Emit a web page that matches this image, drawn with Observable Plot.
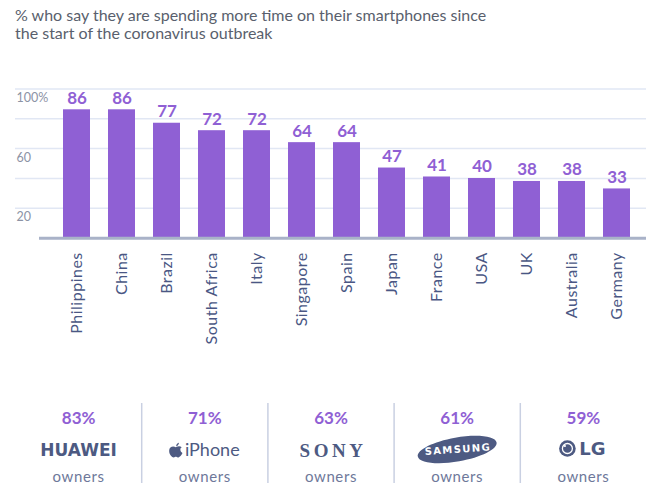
<!DOCTYPE html>
<html>
<head>
<meta charset="utf-8">
<script src="https://cdn.jsdelivr.net/npm/d3@7"></script>
<script src="https://cdn.jsdelivr.net/npm/@observablehq/plot@0.6"></script>
<style>
  html, body { margin: 0; padding: 0; background: #ffffff; }
  body { width: 652px; height: 497px; position: relative; overflow: hidden; font-family: Lato, "Open Sans", sans-serif; }
  #title { position: absolute; left: 15px; top: 6px; font-size: 16px; line-height: 18px; color: #595f6d; font-family: Lato, sans-serif; }
  #chart { position: absolute; left: 0; top: 50px; }
  #brands { position: absolute; left: 0; top: 395px; }
  #chart svg [aria-label="x-axis tick label"] { letter-spacing: 0.5px; }
</style>
</head>
<body>
<div id="title">% who say they are spending more time on their smartphones since<br>the start of the coronavirus outbreak</div>
<div id="chart"></div>
<div id="brands"></div>
<script>
// ---- data ----
const countries = ["Philippines", "China", "Brazil", "South Africa", "Italy", "Singapore", "Spain", "Japan", "France", "USA", "UK", "Australia", "Germany"];
const shares = [86, 86, 77, 72, 72, 64, 64, 47, 41, 40, 38, 38, 33];
const gridTicks = [20, 40, 60, 80, 100];
const labelTicks = [20, 60, 100];
const brands = ["HUAWEI", "iPhone", "SONY", "SAMSUNG", "LG"];
const brandShares = [83, 71, 63, 61, 59];
const dividers = [1, 2, 3, 4];

const purple = "#8f60d4";
const slate = "#4d5a82";

const rows = countries.map((c, i) => ({country: c, value: shares[i]}));

const chart = Plot.plot({
  width: 652,
  height: 300,
  marginLeft: 15,
  marginRight: 6,
  marginTop: 38.4,
  marginBottom: 112.3,
  style: {fontFamily: "Lato, sans-serif", background: "transparent"},
  x: {domain: countries, range: [43.6, 649.8], padding: 0.4},
  y: {domain: [0, 100], axis: null},
  marks: [
    Plot.ruleY(gridTicks, {stroke: "#e1e7f4", strokeWidth: 1.5}),
    Plot.text(labelTicks, {y: d => d, text: d => d === 100 ? "100%" : String(d), frameAnchor: "left", textAnchor: "start", dx: 1, dy: 9, fill: "#8c93a5", fontSize: 12.5}),
    Plot.barY(rows, {x: "country", y: "value", fill: purple}),
    Plot.ruleY([0], {stroke: "#a9b2c8", strokeWidth: 3, insetLeft: 24}),
    Plot.text(rows, {x: "country", y: "value", text: d => String(d.value), lineAnchor: "bottom", dy: -6, fill: purple, fontSize: 17, fontWeight: "bold"}),
    Plot.axisX({tickRotate: -90, tickSize: 0, tickPadding: 14, fontSize: 16, label: null, color: "#4a5784"})
  ]
});
document.getElementById("chart").appendChild(chart);

// custom symbols
const ellipseSymbol = {
  draw(ctx, size) {
    const r = Math.sqrt(size / Math.PI);
    const a = r, b = r * 0.3, k = 0.5523, th = -10 * Math.PI / 180;
    const c = Math.cos(th), s = Math.sin(th);
    const p = (x, y) => [x * c - y * s, x * s + y * c];
    const m = p(a, 0);
    ctx.moveTo(m[0], m[1]);
    const segs = [
      [[a, k * b], [k * a, b], [0, b]],
      [[-k * a, b], [-a, k * b], [-a, 0]],
      [[-a, -k * b], [-k * a, -b], [0, -b]],
      [[k * a, -b], [a, -k * b], [a, 0]]
    ];
    for (const [c1, c2, e] of segs) {
      const q1 = p(...c1), q2 = p(...c2), q3 = p(...e);
      ctx.bezierCurveTo(q1[0], q1[1], q2[0], q2[1], q3[0], q3[1]);
    }
    ctx.closePath();
  }
};
const appleSymbol = {
  draw(ctx, size) {
    const r = Math.sqrt(size / Math.PI);
    ctx.moveTo(0, -0.45 * r);
    ctx.bezierCurveTo(-0.3 * r, -0.65 * r, -0.95 * r, -0.6 * r, -0.95 * r, 0.05 * r);
    ctx.bezierCurveTo(-0.95 * r, 0.6 * r, -0.55 * r, 1.0 * r, -0.3 * r, 1.0 * r);
    ctx.bezierCurveTo(-0.15 * r, 1.0 * r, -0.1 * r, 0.9 * r, 0, 0.9 * r);
    ctx.bezierCurveTo(0.1 * r, 0.9 * r, 0.15 * r, 1.0 * r, 0.3 * r, 1.0 * r);
    ctx.bezierCurveTo(0.55 * r, 1.0 * r, 0.85 * r, 0.6 * r, 0.95 * r, 0.35 * r);
    ctx.bezierCurveTo(0.6 * r, 0.2 * r, 0.55 * r, -0.35 * r, 0.85 * r, -0.45 * r);
    ctx.bezierCurveTo(0.6 * r, -0.7 * r, 0.3 * r, -0.65 * r, 0, -0.45 * r);
    ctx.closePath();
    ctx.moveTo(0.05 * r, -0.6 * r);
    ctx.bezierCurveTo(0.05 * r, -0.9 * r, 0.3 * r, -1.1 * r, 0.45 * r, -1.1 * r);
    ctx.bezierCurveTo(0.45 * r, -0.85 * r, 0.25 * r, -0.62 * r, 0.05 * r, -0.6 * r);
    ctx.closePath();
  }
};

const pos = d => brands.indexOf(d) + 0.5;
const only = name => d => d === name;

const panel = Plot.plot({
  width: 652,
  height: 100,
  marginLeft: 15,
  marginRight: 6,
  marginTop: 0,
  marginBottom: 0,
  style: {fontFamily: "Lato, sans-serif", background: "transparent"},
  x: {domain: [0, 5], axis: null},
  marks: [
    Plot.ruleX(dividers, {x: d => d, insetTop: 8, insetBottom: 12, stroke: "#c9d0e2", strokeWidth: 1.5}),
    Plot.text(brands, {x: pos, text: (d, i) => brandShares[i] + "%", frameAnchor: "top", dy: 23, lineAnchor: "middle", fill: purple, fontSize: 17, fontWeight: "bold"}),
    Plot.text(brands, {x: pos, text: () => "owners", frameAnchor: "top", dy: 82, lineAnchor: "middle", fill: "#6e789a", fontSize: 15}),
    // HUAWEI
    Plot.text(brands, {filter: only("HUAWEI"), x: pos, text: d => d, frameAnchor: "top", dy: 55, lineAnchor: "middle", fill: slate, fontSize: 17, fontWeight: "bold", fontFamily: "DejaVu Sans"}),
    // iPhone
    Plot.dot(brands, {filter: only("iPhone"), x: pos, frameAnchor: "top", dy: 55, dx: -29, r: 7, symbol: appleSymbol, fill: slate, stroke: "none"}),
    Plot.text(brands, {filter: only("iPhone"), x: pos, text: d => d, frameAnchor: "top", dy: 55, dx: 7.5, lineAnchor: "middle", fill: slate, fontSize: 18}),
    // SONY
    Plot.text(brands, {filter: only("SONY"), x: pos, text: d => d, frameAnchor: "top", dy: 55, dx: 2, lineAnchor: "middle", fill: slate, fontSize: 19, fontWeight: "bold", fontFamily: "Liberation Serif"}),
    // SAMSUNG
    Plot.dot(brands, {filter: only("SAMSUNG"), x: pos, frameAnchor: "top", dy: 54, r: 40, symbol: ellipseSymbol, fill: slate, stroke: "none"}),
    Plot.text(brands, {filter: only("SAMSUNG"), x: pos, text: d => d, frameAnchor: "top", dy: 54, dx: 0.7, lineAnchor: "middle", rotate: -4, fill: "#ffffff", fontSize: 10, fontWeight: "bold", fontFamily: "DejaVu Sans"}),
    // LG
    Plot.dot(brands, {filter: only("LG"), x: pos, frameAnchor: "top", dy: 53, dx: -16, r: 8.3, fill: slate, stroke: "none"}),
    Plot.dot(brands, {filter: only("LG"), x: pos, frameAnchor: "top", dy: 53, dx: -16, r: 5, fill: "none", stroke: "#ffffff", strokeWidth: 1.3}),
    Plot.dot(brands, {filter: only("LG"), x: pos, frameAnchor: "top", dy: 50.5, dx: -18.5, r: 1.1, fill: "#ffffff", stroke: "none"}),
    Plot.text(brands, {filter: only("LG"), x: pos, text: d => d, frameAnchor: "top", dy: 54, dx: 9, lineAnchor: "middle", fill: slate, fontSize: 18, fontWeight: "bold", fontFamily: "DejaVu Sans"})
  ]
});
document.getElementById("brands").appendChild(panel);

// letter spacing for logo-like wordmarks
d3.select(panel).selectAll("text").each(function () {
  const t = this.textContent;
  if (t === "SONY") this.style.letterSpacing = "3.5px";
  if (t === "SAMSUNG") this.style.letterSpacing = "1.4px";
  if (t === "owners") this.style.letterSpacing = "0.6px";
});
</script>
</body>
</html>
